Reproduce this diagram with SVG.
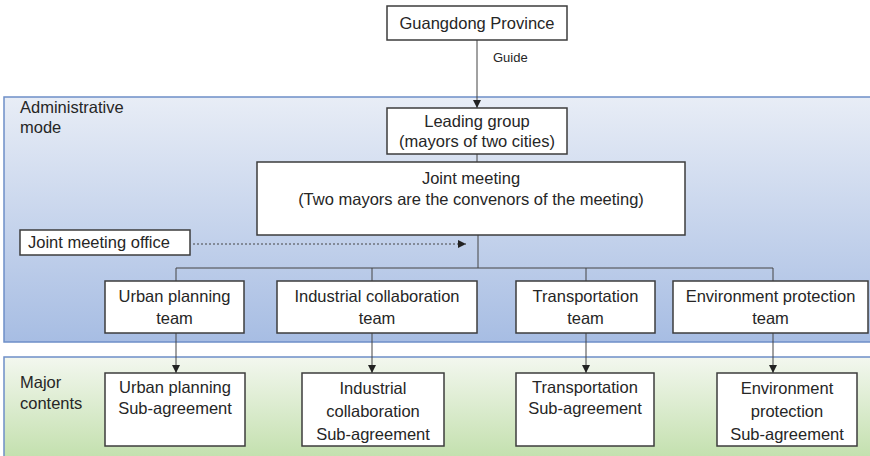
<svg xmlns="http://www.w3.org/2000/svg" width="870" height="456" viewBox="0 0 870 456">
<defs>
<linearGradient id="gBlue" x1="0" y1="0" x2="0" y2="1">
<stop offset="0" stop-color="#e8edf6"/>
<stop offset="1" stop-color="#a7bde3"/>
</linearGradient>
<linearGradient id="gGreen" x1="0" y1="0" x2="0" y2="1">
<stop offset="0" stop-color="#f3f7ef"/>
<stop offset="1" stop-color="#bfdea8"/>
</linearGradient>
<marker id="arr" viewBox="0 0 10 10" refX="10" refY="5" markerWidth="8" markerHeight="8" markerUnits="userSpaceOnUse" orient="auto">
<path d="M0,0 L10,5 L0,10 Z" fill="#222"/>
</marker>
</defs>
<style>
.box{fill:#fff;stroke:#3d3d3d;stroke-width:1.5}
.t{font-family:"Liberation Sans",Arial,sans-serif;font-size:16.5px;fill:#262626;text-anchor:middle}
.l{font-family:"Liberation Sans",Arial,sans-serif;font-size:16.5px;fill:#262626}
.s{font-family:"Liberation Sans",Arial,sans-serif;font-size:13px;fill:#262626}
.c{fill:none;stroke:#444;stroke-width:1}
.panel{stroke:#6e8fc8;stroke-width:1.5}
</style>
<rect width="870" height="456" fill="#fff"/>
<g id="panel-admin">
<rect class="panel" x="4" y="97" width="870" height="245" fill="url(#gBlue)"/>
<text class="l" x="20" y="113">Administrative</text>
<text class="l" x="20" y="133">mode</text>
</g>
<g id="panel-major">
<rect class="panel" x="4" y="357" width="870" height="110" fill="url(#gGreen)"/>
<text class="l" x="20" y="388">Major</text>
<text class="l" x="20" y="409">contents</text>
</g>
<g id="connectors">
<line class="c" x1="477" y1="40" x2="477" y2="108" marker-end="url(#arr)"/>
<text class="s" x="493" y="62">Guide</text>
<line class="c" x1="477" y1="154" x2="477" y2="162"/>
<line class="c" x1="478" y1="235" x2="478" y2="268"/>
<line class="c" x1="176" y1="268" x2="773" y2="268"/>
<line class="c" x1="176" y1="268" x2="176" y2="281"/>
<line class="c" x1="372" y1="268" x2="372" y2="281"/>
<line class="c" x1="586" y1="268" x2="586" y2="281"/>
<line class="c" x1="773" y1="268" x2="773" y2="281"/>
<line class="c" x1="193" y1="244" x2="466" y2="244" stroke-dasharray="2,2" marker-end="url(#arr)"/>
<line class="c" x1="176" y1="333" x2="176" y2="373" marker-end="url(#arr)"/>
<line class="c" x1="372" y1="333" x2="372" y2="373" marker-end="url(#arr)"/>
<line class="c" x1="586" y1="333" x2="586" y2="373" marker-end="url(#arr)"/>
<line class="c" x1="773" y1="333" x2="773" y2="373" marker-end="url(#arr)"/>
</g>
<g id="guangdong">
<rect class="box" x="387" y="6" width="180" height="34"/>
<text class="t" x="477" y="29">Guangdong Province</text>
</g>
<g id="leading">
<rect class="box" x="387" y="108" width="180" height="46"/>
<text class="t" x="477" y="127">Leading group</text>
<text class="t" x="477" y="147">(mayors of two cities)</text>
</g>
<g id="joint">
<rect class="box" x="257" y="162" width="428" height="73"/>
<text class="t" x="471" y="184">Joint meeting</text>
<text class="t" x="471" y="205">(Two mayors are the convenors of the meeting)</text>
</g>
<g id="office">
<rect class="box" x="20" y="230" width="170" height="25"/>
<text class="l" x="28" y="248">Joint meeting office</text>
</g>
<g id="team-urban">
<rect class="box" x="105" y="281" width="139" height="52"/>
<text class="t" x="174.5" y="302">Urban planning</text>
<text class="t" x="174.5" y="324">team</text>
</g>
<g id="team-industrial">
<rect class="box" x="277" y="281" width="200" height="52"/>
<text class="t" x="377" y="302">Industrial collaboration</text>
<text class="t" x="377" y="324">team</text>
</g>
<g id="team-transport">
<rect class="box" x="516" y="281" width="139" height="52"/>
<text class="t" x="585.5" y="302">Transportation</text>
<text class="t" x="585.5" y="324">team</text>
</g>
<g id="team-env">
<rect class="box" x="673" y="281" width="195" height="52"/>
<text class="t" x="770.5" y="302">Environment protection</text>
<text class="t" x="770.5" y="324">team</text>
</g>
<g id="sub-urban">
<rect class="box" x="105" y="373" width="140" height="73"/>
<text class="t" x="175" y="393">Urban planning</text>
<text class="t" x="175" y="414">Sub-agreement</text>
</g>
<g id="sub-industrial">
<rect class="box" x="302" y="373" width="142" height="73"/>
<text class="t" x="373" y="394">Industrial</text>
<text class="t" x="373" y="417">collaboration</text>
<text class="t" x="373" y="440">Sub-agreement</text>
</g>
<g id="sub-transport">
<rect class="box" x="516" y="373" width="138" height="73"/>
<text class="t" x="585" y="393">Transportation</text>
<text class="t" x="585" y="414">Sub-agreement</text>
</g>
<g id="sub-env">
<rect class="box" x="717" y="373" width="140" height="73"/>
<text class="t" x="787" y="394">Environment</text>
<text class="t" x="787" y="417">protection</text>
<text class="t" x="787" y="440">Sub-agreement</text>
</g>
</svg>
